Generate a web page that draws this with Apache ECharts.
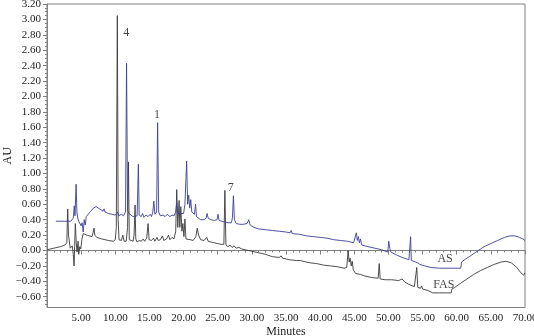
<!DOCTYPE html>
<html>
<head>
<meta charset="utf-8">
<script src="https://cdn.jsdelivr.net/npm/echarts@6/dist/echarts.min.js"></script>
<style>html,body{margin:0;padding:0;background:#fff}#c{width:534px;height:336px}</style>
</head>
<body>
<div id="c"></div>
<script>
// Time (min) / absorbance (AU) pairs
const fasData = [
[0.0,0.01],[1.0,0.03],[2.0,0.05],[2.6,0.07],[2.9,0.10],[3.03,0.54],[3.15,0.20],[3.4,0.03],[3.7,0.06],[3.85,-0.05],[3.96,-0.20],[4.05,0.05],[4.15,0.35],[4.28,0.10],[4.4,-0.02],[4.55,0.12],[4.65,-0.05],[4.8,0.05],[4.95,0.02],[5.1,0.14],[5.3,0.22],[5.5,0.21],[5.8,0.20],[6.2,0.19],[6.6,0.18],[6.8,0.20],[6.9,0.29],[7.0,0.20],[7.3,0.17],[8.0,0.15],[9.0,0.13],[9.7,0.12],[10.0,0.14],[10.15,0.30],[10.3,3.05],[10.42,0.40],[10.55,0.14],[10.9,0.13],[11.1,0.20],[11.3,0.12],[11.6,0.12],[11.8,0.30],[11.93,1.15],[12.05,0.14],[12.3,0.12],[12.6,0.12],[12.75,0.20],[12.9,0.59],[13.0,0.15],[13.2,0.11],[13.5,0.13],[13.8,0.12],[14.1,0.15],[14.3,0.12],[14.6,0.16],[14.8,0.35],[14.95,0.14],[15.3,0.13],[15.6,0.16],[15.8,0.12],[16.1,0.17],[16.3,0.13],[16.6,0.14],[16.9,0.19],[17.1,0.13],[17.5,0.15],[17.8,0.20],[18.0,0.14],[18.3,0.17],[18.6,0.15],[18.85,0.25],[19.0,0.79],[19.15,0.30],[19.35,0.65],[19.45,0.30],[19.6,0.57],[19.75,0.25],[19.9,0.35],[20.05,0.18],[20.2,0.41],[20.35,0.15],[20.6,0.13],[21.0,0.14],[21.4,0.13],[21.8,0.18],[22.0,0.29],[22.2,0.20],[22.5,0.14],[23.0,0.13],[23.4,0.17],[23.6,0.12],[24.0,0.11],[24.5,0.10],[25.0,0.09],[25.5,0.08],[25.9,0.08],[26.05,0.78],[26.2,0.07],[26.5,0.05],[26.8,0.07],[27.1,0.04],[27.4,0.06],[27.7,0.03],[28.1,0.04],[28.5,0.02],[29.0,0.01],[30.0,-0.01],[31.0,-0.03],[32.0,-0.05],[33.0,-0.08],[34.0,-0.09],[34.3,-0.07],[34.5,-0.10],[35.5,-0.12],[36.5,-0.13],[37.1,-0.13],[37.3,-0.11],[37.5,-0.14],[38.5,-0.16],[39.5,-0.17],[40.5,-0.19],[41.5,-0.20],[42.5,-0.21],[43.5,-0.23],[43.9,-0.22],[44.1,0.0],[44.25,-0.15],[44.4,-0.10],[44.55,-0.20],[44.7,-0.14],[44.85,-0.25],[45.2,-0.30],[45.9,-0.31],[46.5,-0.33],[47.5,-0.35],[48.5,-0.36],[48.65,-0.17],[48.8,-0.37],[49.5,-0.38],[50.5,-0.38],[51.5,-0.39],[52.0,-0.37],[52.4,-0.41],[53.0,-0.44],[53.8,-0.47],[54.0,-0.47],[54.15,-0.22],[54.3,-0.48],[54.7,-0.49],[54.85,-0.46],[55.0,-0.50],[55.8,-0.52],[56.5,-0.55],[57.5,-0.55],[58.5,-0.55],[59.2,-0.55],[59.3,-0.50],[59.7,-0.48],[60.5,-0.43],[61.5,-0.37],[62.5,-0.31],[63.5,-0.26],[64.5,-0.22],[65.5,-0.18],[66.5,-0.15],[67.2,-0.14],[68.0,-0.16],[68.8,-0.22],[69.4,-0.29],[69.8,-0.32],[70.0,-0.29]
];
const asData = [
[1.3,0.38],[2.5,0.38],[3.5,0.38],[3.7,0.39],[3.85,0.42],[4.0,0.58],[4.1,0.45],[4.26,0.86],[4.38,0.50],[4.5,0.42],[4.65,0.38],[4.8,0.40],[5.0,0.32],[5.15,0.36],[5.3,0.24],[5.45,0.40],[5.6,0.33],[5.75,0.44],[6.0,0.46],[6.4,0.51],[6.8,0.55],[7.2,0.57],[7.5,0.55],[7.9,0.53],[8.2,0.51],[8.35,0.54],[8.5,0.50],[9.0,0.48],[9.5,0.47],[10.0,0.46],[10.2,0.46],[10.35,0.50],[10.5,0.45],[10.9,0.47],[11.2,0.45],[11.5,0.50],[11.65,2.43],[11.8,0.52],[12.0,0.48],[12.3,0.46],[12.6,0.44],[13.2,0.45],[13.38,1.12],[13.5,0.46],[13.8,0.44],[14.0,0.48],[14.2,0.43],[14.5,0.46],[14.8,0.44],[15.1,0.47],[15.3,0.44],[15.5,0.50],[15.65,0.64],[15.8,0.47],[16.05,0.50],[16.2,1.66],[16.35,0.50],[16.6,0.45],[17.0,0.46],[17.3,0.44],[17.6,0.47],[18.0,0.44],[18.3,0.46],[18.6,0.45],[18.85,0.50],[19.0,0.62],[19.15,0.48],[19.4,0.46],[20.0,0.48],[20.2,0.60],[20.45,1.16],[20.6,0.60],[20.75,0.72],[20.9,0.55],[21.05,0.66],[21.2,0.50],[21.4,0.52],[21.6,0.47],[21.75,0.60],[21.9,0.44],[22.2,0.42],[22.5,0.40],[23.0,0.40],[23.3,0.42],[23.45,0.48],[23.6,0.42],[24.0,0.40],[24.5,0.39],[24.9,0.40],[25.05,0.47],[25.2,0.39],[25.6,0.38],[26.0,0.37],[26.5,0.36],[27.0,0.36],[27.15,0.42],[27.3,0.71],[27.45,0.40],[27.7,0.35],[28.2,0.34],[28.7,0.34],[29.3,0.35],[29.55,0.40],[29.75,0.33],[30.3,0.30],[31.0,0.28],[32.0,0.27],[33.0,0.26],[34.0,0.25],[35.0,0.24],[35.6,0.23],[35.75,0.26],[35.9,0.22],[37.0,0.21],[38.0,0.19],[39.0,0.18],[40.0,0.17],[41.0,0.16],[42.0,0.14],[43.0,0.13],[44.0,0.12],[44.9,0.10],[45.1,0.12],[45.3,0.23],[45.45,0.13],[45.6,0.18],[45.75,0.10],[45.9,0.15],[46.1,0.07],[47.0,0.05],[48.0,0.03],[49.0,0.01],[49.9,-0.02],[50.05,0.12],[50.2,0.03],[50.35,-0.02],[51.0,-0.05],[52.0,-0.09],[53.0,-0.12],[53.15,-0.10],[53.25,0.18],[53.35,-0.13],[54.0,-0.15],[54.3,-0.16],[54.45,-0.14],[54.6,-0.18],[55.3,-0.20],[56.2,-0.22],[57.5,-0.23],[59.0,-0.23],[60.6,-0.23],[60.7,-0.15],[61.3,-0.11],[62.0,-0.07],[63.0,-0.01],[64.0,0.05],[65.0,0.09],[66.0,0.13],[67.0,0.17],[67.8,0.19],[68.5,0.19],[69.2,0.17],[69.7,0.15],[70.0,0.13]
];
// annotations: [time, AU, text]
const annotations = [[11.6,2.82,'4'],[16.1,1.76,'1'],[26.9,0.81,'7'],[58.3,-0.105,'AS'],[58.1,-0.443,'FAS']];
const yTickValues = [-0.6,-0.4,-0.2,0,0.2,0.4,0.6,0.8,1.0,1.2,1.4,1.6,1.8,2.0,2.2,2.4,2.6,2.8,3.0,3.2];
const yMin = -0.74, yMax = 3.2;
const xMin = 0, xMax = 70, xStep = 5;

const yMinor = [];
for (let i = 0; i <= 80; i++) {
  const v = Math.round((-0.75 + i * 0.05) * 100) / 100;
  if (v >= yMin && v <= yMax) yMinor.push(v);
}

const FONT = '"Liberation Serif", "DejaVu Serif", serif';
const AX = '#808080';
const chart = echarts.init(document.getElementById('c'), null, {renderer: 'canvas'});
chart.setOption({
  animation: false,
  grid: {left: 47, right: 9, top: 4, bottom: 28.5, containLabel: false, outerBoundsMode: 'none',
    show: true, borderColor: AX, borderWidth: 1, backgroundColor: 'transparent'},
  xAxis: {
    type: 'value', min: xMin, max: xMax, interval: xStep,
    name: 'Minutes', nameLocation: 'middle', nameGap: 18, nameMoveOverlap: false,
    nameTextStyle: {fontFamily: FONT, fontSize: 12, color: '#222'},
    axisLine: {show: true, lineStyle: {color: AX, width: 1}},
    axisTick: {show: true, inside: false, length: 4, lineStyle: {color: AX}},
    minorTick: {show: true, splitNumber: 5, length: 2, lineStyle: {color: AX}},
    splitLine: {show: false},
    axisLabel: {fontFamily: FONT, fontSize: 11, color: '#222', margin: 5,
      formatter: v => v === 0 ? '' : v.toFixed(2)}
  },
  yAxis: [{
    type: 'value', min: yMin, max: yMax,
    name: 'AU', nameLocation: 'middle', nameGap: 33, nameMoveOverlap: false,
    nameTextStyle: {fontFamily: FONT, fontSize: 12, color: '#222'},
    axisLine: {show: true, lineStyle: {color: AX, width: 1}},
    axisTick: {show: true, inside: false, length: 4, customValues: yTickValues, lineStyle: {color: AX}},
    splitLine: {show: false},
    axisLabel: {fontFamily: FONT, fontSize: 11, color: '#222', margin: 6, customValues: yTickValues,
      formatter: v => (v < -1e-9 ? '\u2212' : '') + Math.abs(v).toFixed(2)}
  }, {
    type: 'value', min: yMin, max: yMax, position: 'left', offset: 0,
    axisLine: {show: false},
    axisTick: {show: true, inside: false, length: 2, customValues: yMinor, lineStyle: {color: AX}},
    axisLabel: {show: false},
    splitLine: {show: false}
  }],
  series: [{
    name: 'FAS', type: 'line', data: fasData, showSymbol: false, symbol: 'none',
    lineStyle: {color: '#3a3a3a', width: 0.9}, z: 2
  }, {
    name: 'AS', type: 'line', data: asData, showSymbol: false, symbol: 'none',
    lineStyle: {color: '#3b3f98', width: 0.9}, z: 3
  }, {
    type: 'scatter', data: annotations, symbolSize: 0, z: 5,
    label: {show: true, position: 'inside', formatter: p => p.data[2],
      fontFamily: FONT, fontSize: 12, color: '#111'}
  }]
});
</script>
</body>
</html>
